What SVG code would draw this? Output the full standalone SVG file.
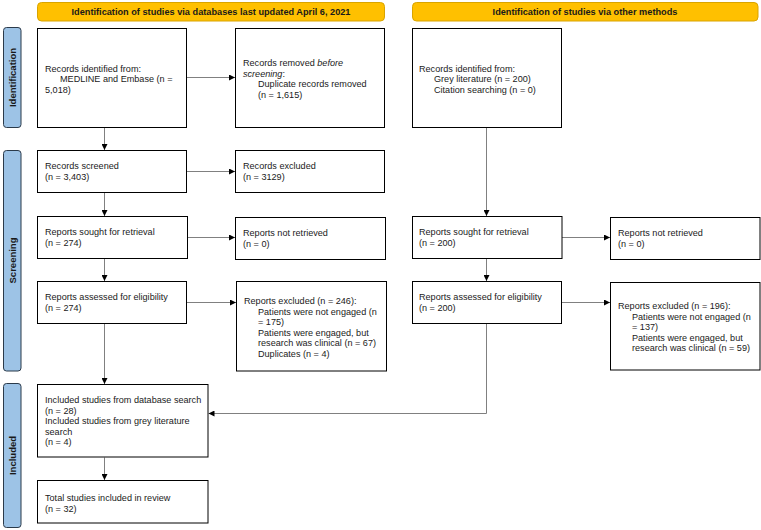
<svg xmlns="http://www.w3.org/2000/svg" width="761" height="530" viewBox="0 0 761 530">
<defs>
<marker id="ah" markerWidth="6" markerHeight="6" refX="6" refY="3" orient="auto" markerUnits="userSpaceOnUse">
<path d="M0,0 L6,3 L0,6 z" fill="#000"/>
</marker>
<style>
.hdr{fill:#FFC000;stroke:#D9A400;stroke-width:1}
.hdrt{font-family:"Liberation Sans",Arial,sans-serif;font-size:9.2px;font-weight:bold;fill:#1a1a1a;text-anchor:middle}
.side{fill:#9DC3E6;stroke:#2b3a4a;stroke-width:1}
.sidet{font-family:"Liberation Sans",Arial,sans-serif;font-size:9.5px;font-weight:bold;fill:#1a1a1a;text-anchor:middle}
.box{fill:#fff;stroke:#000;stroke-width:1}
.t{font-family:"Liberation Sans",Arial,sans-serif;font-size:9.1px;fill:#1a1a1a}
.c{fill:none;stroke:#808080;stroke-width:1}
</style>
</defs>
<rect width="761" height="530" fill="#fff"/>

<g id="header-db"><rect class="hdr" x="37.5" y="2.5" width="347" height="18.5" rx="4"/><text class="hdrt" x="211" y="15">Identification of studies via databases last updated April 6, 2021</text></g>
<g id="header-other"><rect class="hdr" x="412.5" y="2.5" width="345.5" height="18.5" rx="4"/><text class="hdrt" x="585" y="15">Identification of studies via other methods</text></g>

<g id="side-identification"><rect class="side" x="3.5" y="27.5" width="17.5" height="100" rx="3"/><text class="sidet" transform="translate(15.5,77.5) rotate(-90)">Identification</text></g>
<g id="side-screening"><rect class="side" x="3.5" y="150.5" width="17.5" height="220.5" rx="3"/><text class="sidet" transform="translate(15.5,260.5) rotate(-90)">Screening</text></g>
<g id="side-included"><rect class="side" x="3.5" y="383.5" width="17.5" height="144" rx="3"/><text class="sidet" transform="translate(15.5,455.5) rotate(-90)">Included</text></g>

<g id="connectors">
<line class="c" x1="104.5" y1="127.5" x2="104.5" y2="150" marker-end="url(#ah)"/>
<line class="c" x1="187" y1="77.5" x2="235" y2="77.5" marker-end="url(#ah)"/>
<line class="c" x1="104.5" y1="192.5" x2="104.5" y2="216" marker-end="url(#ah)"/>
<line class="c" x1="187" y1="171.5" x2="235" y2="171.5" marker-end="url(#ah)"/>
<line class="c" x1="188" y1="237.5" x2="235" y2="237.5" marker-end="url(#ah)"/>
<line class="c" x1="104.5" y1="258.5" x2="104.5" y2="281" marker-end="url(#ah)"/>
<line class="c" x1="187" y1="302.5" x2="236" y2="302.5" marker-end="url(#ah)"/>
<line class="c" x1="104.5" y1="323.5" x2="104.5" y2="384" marker-end="url(#ah)"/>
<line class="c" x1="104.5" y1="457.5" x2="104.5" y2="480" marker-end="url(#ah)"/>
<line class="c" x1="486.5" y1="127.5" x2="486.5" y2="216" marker-end="url(#ah)"/>
<line class="c" x1="562" y1="237.5" x2="610" y2="237.5" marker-end="url(#ah)"/>
<line class="c" x1="486.5" y1="258.5" x2="486.5" y2="281" marker-end="url(#ah)"/>
<line class="c" x1="561" y1="302.5" x2="610" y2="302.5" marker-end="url(#ah)"/>
<polyline class="c" points="486.5,323.5 486.5,413.5 208.5,413.5" marker-end="url(#ah)"/>
</g>

<g id="n-identified"><rect class="box" x="37.5" y="28.5" width="149" height="99"/><text class="t" x="45" y="71.5">Records identified from:</text><text class="t" x="60" y="82">MEDLINE and Embase (n =</text><text class="t" x="45" y="92.5">5,018)</text></g>
<g id="n-removed"><rect class="box" x="235.5" y="28.5" width="149" height="99"/><text class="t" x="243" y="66">Records removed <tspan font-style="italic">before</tspan></text><text class="t" x="243" y="76.5"><tspan font-style="italic">screening</tspan>:</text><text class="t" x="258" y="87">Duplicate records removed</text><text class="t" x="258" y="97.5">(n = 1,615)</text></g>
<g id="n-other-identified"><rect class="box" x="412.5" y="28.5" width="149" height="99"/><text class="t" x="419" y="71.5">Records identified from:</text><text class="t" x="434" y="82">Grey literature (n = 200)</text><text class="t" x="434" y="92.5">Citation searching (n = 0)</text></g>

<g id="n-screened"><rect class="box" x="37.5" y="150.5" width="149" height="42"/><text class="t" x="45" y="169">Records screened</text><text class="t" x="45" y="179.5">(n = 3,403)</text></g>
<g id="n-excluded"><rect class="box" x="235.5" y="150.5" width="149" height="42"/><text class="t" x="243" y="169">Records excluded</text><text class="t" x="243" y="179.5">(n = 3129)</text></g>

<g id="n-sought"><rect class="box" x="37.5" y="216.5" width="150" height="42"/><text class="t" x="45" y="235">Reports sought for retrieval</text><text class="t" x="45" y="245.5">(n = 274)</text></g>
<g id="n-notretrieved"><rect class="box" x="235.5" y="217.5" width="150" height="42"/><text class="t" x="243" y="236">Reports not retrieved</text><text class="t" x="243" y="246.5">(n = 0)</text></g>
<g id="n-other-sought"><rect class="box" x="412.5" y="216.5" width="149.5" height="42"/><text class="t" x="419" y="235">Reports sought for retrieval</text><text class="t" x="419" y="245.5">(n = 200)</text></g>
<g id="n-other-notretrieved"><rect class="box" x="610.5" y="217.5" width="149.5" height="42"/><text class="t" x="618" y="236">Reports not retrieved</text><text class="t" x="618" y="246.5">(n = 0)</text></g>

<g id="n-assessed"><rect class="box" x="37.5" y="281.5" width="149" height="42"/><text class="t" x="45" y="300">Reports assessed for eligibility</text><text class="t" x="45" y="310.5">(n = 274)</text></g>
<g id="n-reports-excluded"><rect class="box" x="236.5" y="281.5" width="150" height="89.5"/><text class="t" x="244" y="304">Reports excluded (n = 246):</text><text class="t" x="258" y="314.5">Patients were not engaged (n</text><text class="t" x="258" y="325">= 175)</text><text class="t" x="258" y="335.5">Patients were engaged, but</text><text class="t" x="258" y="346">research was clinical (n = 67)</text><text class="t" x="258" y="356.5">Duplicates (n = 4)</text></g>
<g id="n-other-assessed"><rect class="box" x="412.5" y="281.5" width="149" height="42"/><text class="t" x="419" y="300">Reports assessed for eligibility</text><text class="t" x="419" y="310.5">(n = 200)</text></g>
<g id="n-other-excluded"><rect class="box" x="610.5" y="282.5" width="149.5" height="87.5"/><text class="t" x="618" y="309">Reports excluded (n = 196):</text><text class="t" x="632" y="319.5">Patients were not engaged (n</text><text class="t" x="632" y="330">= 137)</text><text class="t" x="632" y="340.5">Patients were engaged, but</text><text class="t" x="632" y="351">research was clinical (n = 59)</text></g>

<g id="n-included"><rect class="box" x="37.5" y="384.5" width="170.5" height="72.5"/><text class="t" x="45" y="403">Included studies from database search</text><text class="t" x="45" y="413.5">(n = 28)</text><text class="t" x="45" y="424">Included studies from grey literature</text><text class="t" x="45" y="434.5">search</text><text class="t" x="45" y="445">(n = 4)</text></g>
<g id="n-total"><rect class="box" x="37.5" y="480.5" width="170.5" height="42.5"/><text class="t" x="45" y="501">Total studies included in review</text><text class="t" x="45" y="511.5">(n = 32)</text></g>
</svg>
